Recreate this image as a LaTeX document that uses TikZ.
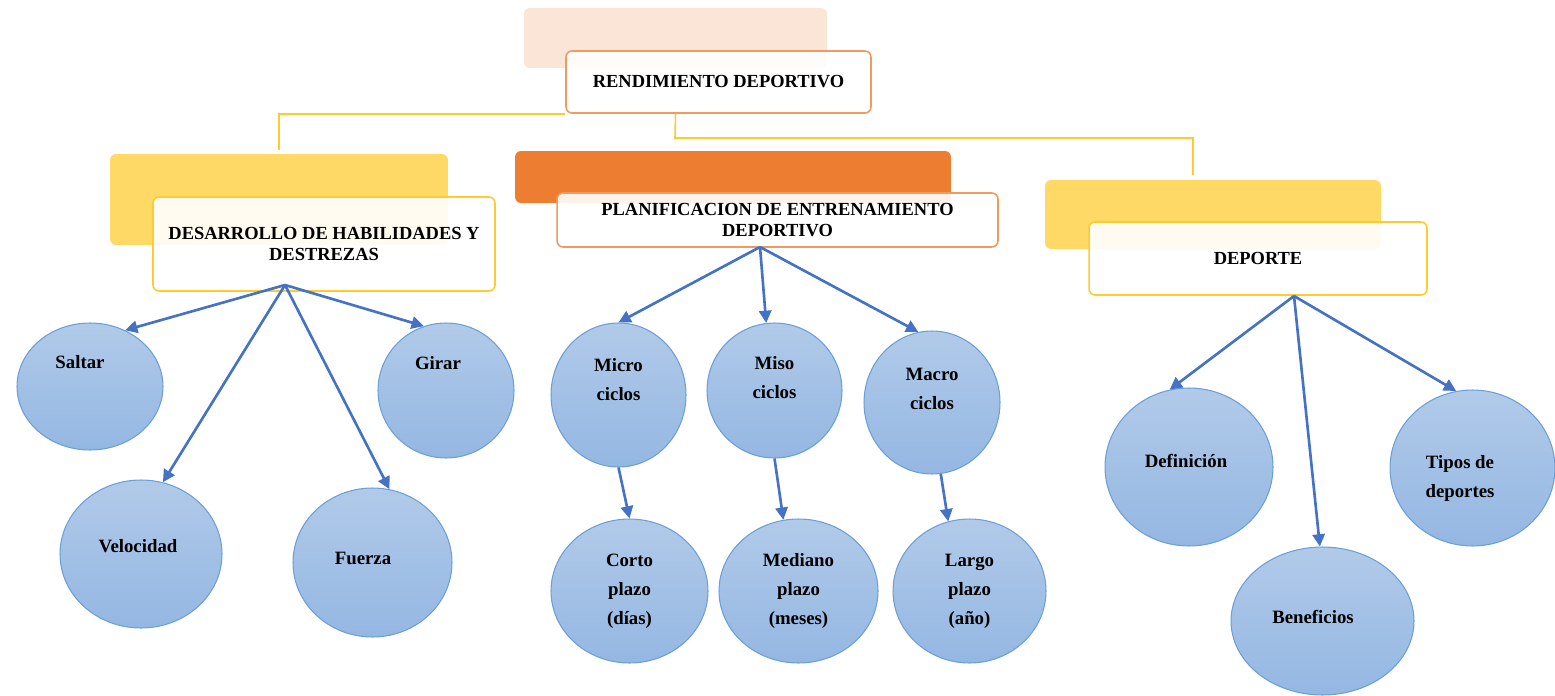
\documentclass[tikz,border=0pt]{standalone}
\usepackage{fontspec}
\setmainfont{Liberation Serif}
\usetikzlibrary{shapes,arrows.meta,shadings,positioning,calc}

\definecolor{peach}{HTML}{FBE5D6}
\definecolor{orangeline}{HTML}{F29A5E}
\definecolor{orangebar}{HTML}{ED7D31}
\definecolor{yellowbar}{HTML}{FFD966}
\definecolor{yellowline}{HTML}{FFC930}
\definecolor{arrowblue}{HTML}{4472C4}
\definecolor{ringblue}{HTML}{6A9FD8}
\definecolor{bubbletop}{HTML}{B1CAE9}
\definecolor{bubblebot}{HTML}{94B7E2}

\tikzset{
  back/.style={rounded corners=0.12cm,inner sep=0pt},
  head/.style={draw,line width=0.9pt,rounded corners=0.12cm,fill=white,
    fill opacity=0.9,text opacity=1,align=center,inner sep=0pt,
    font=\fontsize{10.5}{11.5}\selectfont\bfseries},
  bubble/.style={ellipse,draw=ringblue,line width=0.6pt,top color=bubbletop,
    bottom color=bubblebot,inner sep=0pt},
  ctext/.style={align=center,font=\fontsize{10.7}{16.5}\selectfont\bfseries},
  link/.style={draw=yellowline,line width=0.9pt},
  arr/.style={->,draw=arrowblue,line width=1.5pt}
}

\begin{document}
\begin{tikzpicture}[x=0.02cm,y=-0.02cm,>={Triangle[length=7pt,width=7pt]}]
\useasboundingbox (0,0) rectangle (1555,696);

\node[back,fill=peach,minimum width=6.06cm,minimum height=1.2cm] (topback) at (675.5,38) {};
\node[head,draw=orangeline,minimum width=6.1cm,minimum height=1.24cm] (top) at (718.5,82) {RENDIMIENTO DEPORTIVO};

\node[back,fill=yellowbar,minimum width=6.76cm,minimum height=1.82cm] (habback) at (279,199.5) {};
\node[head,draw=yellowline,minimum width=6.84cm,minimum height=1.88cm] (hab) at (324,244) {DESARROLLO DE HABILIDADES Y\\DESTREZAS};

\node[back,fill=orangebar,minimum width=8.72cm,minimum height=1.04cm] (planback) at (733,177) {};
\node[head,draw=orangeline,minimum width=8.82cm,minimum height=1.08cm] (plan) at (777.5,220) {PLANIFICACION DE ENTRENAMIENTO\\DEPORTIVO};

\node[back,fill=yellowbar,minimum width=6.72cm,minimum height=1.38cm] (depback) at (1213,214.5) {};
\node[head,draw=yellowline,minimum width=6.76cm,minimum height=1.46cm] (dep) at (1258,258.5) {DEPORTE};

\coordinate (rbend) at (675,138);
\coordinate (rend) at (1193,175);
\draw[link,shorten >=0.08cm] (top.south west) -| (habback.north);
\draw[link] (topback.south |- top.south) -- (rbend) -| (rend);

\node[bubble,minimum width=2.92cm,minimum height=2.54cm,
  label={[ctext,xshift=-0.2cm,yshift=0.48cm]center:Saltar}] (saltar) at (90,386.5) {};
\node[bubble,minimum width=2.72cm,minimum height=2.7cm,
  label={[ctext,xshift=-0.16cm,yshift=0.55cm]center:Girar}] (girar) at (446,390.5) {};
\node[bubble,minimum width=3.24cm,minimum height=2.96cm,
  label={[ctext,xshift=-0.06cm,yshift=0.16cm]center:Velocidad}] (velocidad) at (141,554) {};
\node[bubble,minimum width=3.18cm,minimum height=2.98cm,
  label={[ctext,xshift=-0.19cm,yshift=0.09cm]center:Fuerza}] (fuerza) at (372.5,562.5) {};

\node[bubble,minimum width=2.7cm,minimum height=2.88cm,
  label={[ctext,yshift=0.3cm]center:Micro\\ciclos}] (micro) at (618.5,395) {};
\node[bubble,minimum width=2.7cm,minimum height=2.7cm,
  label={[ctext,yshift=0.26cm]center:Miso\\ciclos}] (miso) at (774.5,390.5) {};
\node[bubble,minimum width=2.72cm,minimum height=2.86cm,
  label={[ctext,yshift=0.28cm]center:Macro\\ciclos}] (macro) at (932,402.5) {};
\node[bubble,minimum width=3.14cm,minimum height=2.88cm,
  label={[ctext]center:Corto\\plazo\\(días)}] (corto) at (629.5,591) {};
\node[bubble,minimum width=3.18cm,minimum height=2.88cm,
  label={[ctext]center:Mediano\\plazo\\(meses)}] (mediano) at (798.5,591) {};
\node[bubble,minimum width=3.06cm,minimum height=2.88cm,
  label={[ctext]center:Largo\\plazo\\(año)}] (largo) at (969.5,591) {};

\node[bubble,minimum width=3.36cm,minimum height=3.16cm,
  label={[ctext,xshift=-0.06cm,yshift=0.12cm]center:Definición}] (definicion) at (1189,467) {};
\node[bubble,minimum width=3.3cm,minimum height=3.12cm,
  label={[ctext,xshift=-0.25cm,yshift=-0.2cm]center:Tipos de\\deportes}] (tipos) at (1472.5,468) {};
\node[bubble,minimum width=3.66cm,minimum height=2.96cm,
  label={[ctext,xshift=-0.19cm,yshift=0.08cm]center:Beneficios}] (beneficios) at (1322.5,621) {};

\coordinate (hub1) at (285,285);
\coordinate (hub2) at (760,247);
\coordinate (hub3) at (1294,296);
\draw[arr] (hub1) -- (saltar.58);
\draw[arr] (hub1) -- (velocidad.73);
\draw[arr] (hub1) -- (fuerza.77);
\draw[arr] (hub1) -- (girar.109);
\draw[arr] (hub2) -- (micro.north);
\draw[arr] (hub2) -- (miso.97);
\draw[arr] (hub2) -- (macro.101);
\draw[arr] (micro.south) -- (corto.north);
\draw[arr] (miso.south) -- (mediano.102);
\draw[arr] (macro.-83) -- (largo.107);
\draw[arr] (hub3) -- (definicion.104);
\draw[arr] (hub3) -- (beneficios.92);
\draw[arr] (hub3) -- (tipos.102);
\end{tikzpicture}
\end{document}
